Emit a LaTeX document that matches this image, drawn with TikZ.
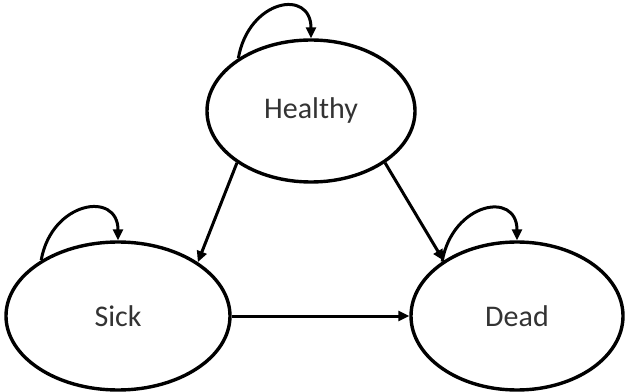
\documentclass[tikz,border=0pt]{standalone}
\usepackage{fontspec}
\setmainfont{Carlito}
\usetikzlibrary{positioning,shapes.geometric,arrows.meta}

\tikzset{
  state/.style={draw,ellipse,line width=1.7pt,inner sep=0pt,
      font=\fontsize{15}{18}\selectfont,text=black!80},
  trans/.style={line width=1.5pt,-{Triangle[length=5.5pt,width=5pt]}},
}

\begin{document}
\begin{tikzpicture}[x=0.5pt,y=0.5pt]
\useasboundingbox (0,0) rectangle (626,391);
\path (311,280) node[state,minimum width=104pt,minimum height=71pt] (healthy) {Healthy};
\path (118,75) node[state,minimum width=112pt,minimum height=74pt] (sick) {Sick};
\path (517,75) node[state,minimum width=106pt,minimum height=74pt] (dead) {Dead};

% self loops
\draw[trans] (healthy.144) .. controls +(80:60) and +(90:50) .. (healthy.north);
\draw[trans] (sick.144) .. controls +(80:60) and +(90:50) .. (sick.north);
\draw[trans] (dead.144) .. controls +(80:60) and +(90:50) .. (dead.north);

% transitions
\draw[trans] (healthy.215) -- (sick.34);
\draw[trans] (healthy.325) -- (dead.143);
\draw[trans] (sick.east) -- (dead.west);
\end{tikzpicture}
\end{document}
